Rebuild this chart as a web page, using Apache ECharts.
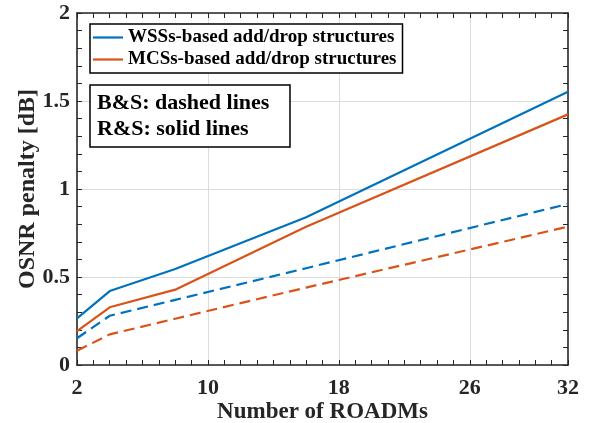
<!DOCTYPE html>
<html>
<head>
<meta charset="utf-8">
<script src="https://cdn.jsdelivr.net/npm/echarts@6/dist/echarts.min.js"></script>
<style>
  html, body { margin: 0; padding: 0; background: #fff; }
  #chart { width: 590px; height: 423px; }
</style>
</head>
<body>
<div id="chart"></div>
<script>
// Number of ROADMs along the path
const roadmCounts = [2, 4, 8, 16, 32];
// OSNR penalty [dB], route-and-select (solid)
const wssRouteSelect = [0.265, 0.42, 0.545, 0.84, 1.553];
const mcsRouteSelect = [0.193, 0.328, 0.428, 0.785, 1.424];
// OSNR penalty [dB], broadcast-and-select (dashed)
const wssBroadcastSelect = [0.152, 0.28, 0.37, 0.55, 0.915];
const mcsBroadcastSelect = [0.081, 0.174, 0.263, 0.44, 0.786];

const xTickValues = [2, 10, 18, 26, 32];
const xGridValues = [10, 18, 26];
const yTickLabels = ['0', '0.5', '1', '1.5', '2'];

const legendNames = ['WSSs-based add/drop structures', 'MCSs-based add/drop structures'];
const noteText = ['B&S: dashed lines', 'R&S: solid lines'];

const BLUE = '#0072BD';
const ORANGE = '#D95319';
const AXIS = '#262626';
const GRID = '#dcdcdc';
const FONT = "'Liberation Serif', 'Times New Roman', serif";

const pairs = ys => roadmCounts.map((x, i) => [x, ys[i]]);

// fixed plot rectangle, shared by the data grid and the grid-line grid
const gridRect = { left: 77, top: 13, width: 491, height: 352, outerBoundsMode: 'none', containLabel: false };

const axisLine = { show: true, onZero: false, lineStyle: { color: AXIS, width: 1.6 } };
const tick = { show: true, inside: true, length: 5, lineStyle: { color: AXIS, width: 1 } };
const labelFont = { fontFamily: FONT, fontWeight: 'bold', fontSize: 22, color: AXIS };

function lineSeries(name, ys, color, dashed) {
  return {
    type: 'line',
    name: name,
    xAxisIndex: 0,
    yAxisIndex: 0,
    data: pairs(ys),
    symbol: 'none',
    showSymbol: false,
    lineStyle: { color: color, width: 2.2, type: dashed ? [11, 6] : 'solid' },
    itemStyle: { color: color },
    z: 3
  };
}

const option = {
  animation: false,
  backgroundColor: '#fff',
  grid: [
    Object.assign({}, gridRect),
    Object.assign({}, gridRect)
  ],
  xAxis: [
    {
      type: 'value', gridIndex: 0, position: 'bottom',
      min: 2, max: 32, interval: 1,
      axisLine: axisLine, axisTick: tick,
      axisLabel: Object.assign({ customValues: xTickValues, margin: 12 }, labelFont),
      splitLine: { show: false },
      name: 'Number of ROADMs', nameLocation: 'middle', nameGap: 36,
      nameMoveOverlap: false,
      nameTextStyle: { fontFamily: FONT, fontWeight: 'bold', fontSize: 23, color: AXIS }
    },
    {
      type: 'value', gridIndex: 0, position: 'top',
      min: 2, max: 32, interval: 1,
      axisLine: axisLine, axisTick: tick,
      axisLabel: { show: false }, splitLine: { show: false }
    },
    {
      type: 'value', gridIndex: 1, position: 'bottom',
      min: 2, max: 32,
      axisLine: { show: false },
      axisTick: { show: false, customValues: xGridValues },
      axisLabel: { show: false },
      splitLine: { show: true, lineStyle: { color: GRID, width: 1 } }
    }
  ],
  yAxis: [
    {
      type: 'value', gridIndex: 0, position: 'left',
      min: 0, max: 2, interval: 0.5,
      axisLine: axisLine, axisTick: tick,
      minorTick: { show: true, splitNumber: 5, length: 5, lineStyle: { color: AXIS, width: 1 } },
      axisLabel: Object.assign({
        margin: 7,
        formatter: v => yTickLabels[Math.round(v / 0.5)]
      }, labelFont),
      splitLine: { show: true, lineStyle: { color: GRID, width: 1 } },
      name: 'OSNR penalty [dB]', nameLocation: 'middle', nameGap: 37,
      nameMoveOverlap: false,
      nameTextStyle: { fontFamily: FONT, fontWeight: 'bold', fontSize: 24, color: AXIS }
    },
    {
      type: 'value', gridIndex: 0, position: 'right',
      min: 0, max: 2, interval: 0.5,
      axisLine: axisLine, axisTick: tick,
      minorTick: { show: true, splitNumber: 5, length: 5, lineStyle: { color: AXIS, width: 1 } },
      axisLabel: { show: false }, splitLine: { show: false }
    },
    {
      type: 'value', gridIndex: 1, min: 0, max: 2,
      axisLine: { show: false }, axisTick: { show: false },
      axisLabel: { show: false }, splitLine: { show: false }
    }
  ],
  legend: {
    orient: 'vertical',
    left: 90, top: 24,
    padding: [4, 6, 4, 3],
    itemGap: 3,
    icon: 'rect',
    itemWidth: 30, itemHeight: 2.2,
    borderColor: '#000', borderWidth: 1.5,
    backgroundColor: '#fff',
    selectedMode: false,
    data: legendNames,
    textStyle: { fontFamily: FONT, fontWeight: 'bold', fontSize: 19, color: '#000' }
  },
  title: {
    text: noteText.join('\n'),
    left: 90, top: 85,
    padding: [5, 21, 5, 7],
    borderColor: '#000', borderWidth: 1.5,
    backgroundColor: '#fff',
    textStyle: { fontFamily: FONT, fontWeight: 'bold', fontSize: 22, lineHeight: 26, color: '#000' }
  },
  series: [
    lineSeries(legendNames[0], wssRouteSelect, BLUE, false),
    lineSeries(legendNames[1], mcsRouteSelect, ORANGE, false),
    lineSeries('WSSs B&S', wssBroadcastSelect, BLUE, true),
    lineSeries('MCSs B&S', mcsBroadcastSelect, ORANGE, true)
  ]
};

const chart = echarts.init(document.getElementById('chart'), null, { renderer: 'canvas' });
chart.setOption(option);
</script>
</body>
</html>
